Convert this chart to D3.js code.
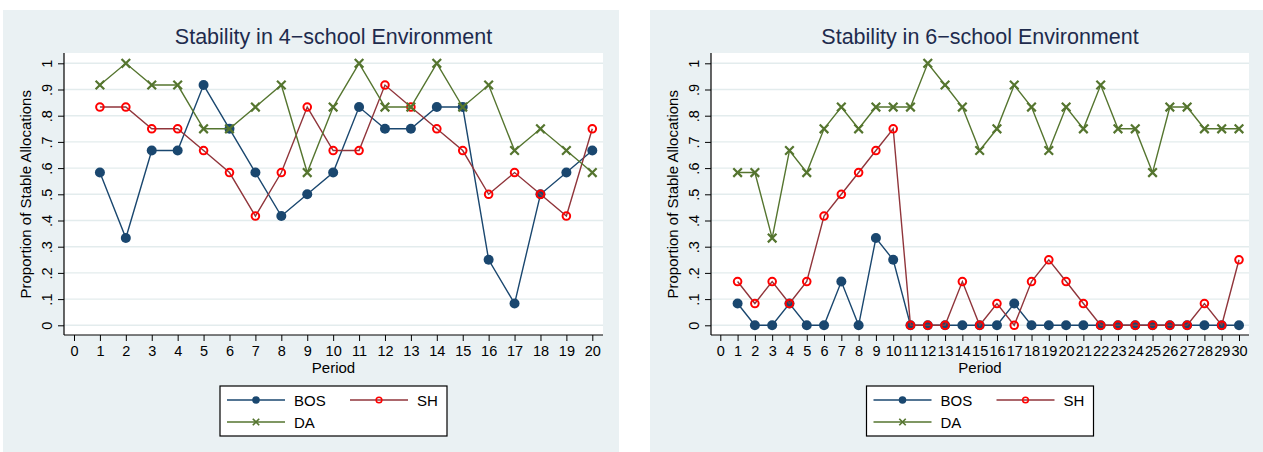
<!DOCTYPE html>
<html>
<head>
<meta charset="utf-8">
<script src="https://cdn.jsdelivr.net/npm/d3@7"></script>
<style>
  body { margin: 0; background: #fff; }
  svg { display: block; }
  text { font-family: "Liberation Sans", Arial, sans-serif; }
</style>
</head>
<body>
<svg id="chart" width="1263" height="452"></svg>
<script>
// data (share of stable allocations per period)
const periods4 = [1, 2, 3, 4, 5, 6, 7, 8, 9, 10, 11, 12, 13, 14, 15, 16, 17, 18, 19, 20];
const bos4 = [0.583, 0.333, 0.667, 0.667, 0.917, 0.75, 0.583, 0.417, 0.5, 0.583, 0.833, 0.75, 0.75, 0.833, 0.833, 0.25, 0.083, 0.5, 0.583, 0.667];
const sh4  = [0.833, 0.833, 0.75, 0.75, 0.667, 0.583, 0.417, 0.583, 0.833, 0.667, 0.667, 0.917, 0.833, 0.75, 0.667, 0.5, 0.583, 0.5, 0.417, 0.75];
const da4  = [0.917, 1, 0.917, 0.917, 0.75, 0.75, 0.833, 0.917, 0.583, 0.833, 1, 0.833, 0.833, 1, 0.833, 0.917, 0.667, 0.75, 0.667, 0.583];

const periods6 = [1, 2, 3, 4, 5, 6, 7, 8, 9, 10, 11, 12, 13, 14, 15, 16, 17, 18, 19, 20, 21, 22, 23, 24, 25, 26, 27, 28, 29, 30];
const bos6 = [0.083, 0, 0, 0.083, 0, 0, 0.167, 0, 0.333, 0.25, 0, 0, 0, 0, 0, 0, 0.083, 0, 0, 0, 0, 0, 0, 0, 0, 0, 0, 0, 0, 0];
const sh6  = [0.167, 0.083, 0.167, 0.083, 0.167, 0.417, 0.5, 0.583, 0.667, 0.75, 0, 0, 0, 0.167, 0, 0.083, 0, 0.167, 0.25, 0.167, 0.083, 0, 0, 0, 0, 0, 0, 0.083, 0, 0.25];
const da6  = [0.583, 0.583, 0.333, 0.667, 0.583, 0.75, 0.833, 0.75, 0.833, 0.833, 0.833, 1, 0.917, 0.833, 0.667, 0.75, 0.917, 0.833, 0.667, 0.833, 0.75, 0.917, 0.75, 0.75, 0.583, 0.833, 0.833, 0.75, 0.75, 0.75];

const seriesNames = ["BOS", "SH", "DA"];
const yTicks = [0, 0.1, 0.2, 0.3, 0.4, 0.5, 0.6, 0.7, 0.8, 0.9, 1];
const yTickLabels = ["0", ".1", ".2", ".3", ".4", ".5", ".6", ".7", ".8", ".9", "1"];
const xTicks4 = [0, 1, 2, 3, 4, 5, 6, 7, 8, 9, 10, 11, 12, 13, 14, 15, 16, 17, 18, 19, 20];
const xTicks6 = [0, 1, 2, 3, 4, 5, 6, 7, 8, 9, 10, 11, 12, 13, 14, 15, 16, 17, 18, 19, 20, 21, 22, 23, 24, 25, 26, 27, 28, 29, 30];

const style = {
  BOS: { line: "#1a476f", marker: "dot", color: "#1a476f" },
  SH:  { line: "#90353b", marker: "ring", color: "#ff0000" },
  DA:  { line: "#55752f", marker: "cross", color: "#55752f" }
};

const svg = d3.select("#chart");

function drawMarker(g, kind, color, x, y, k) {
  if (kind === "dot") {
    g.append("circle").attr("cx", x).attr("cy", y).attr("r", 5 * k).attr("fill", color);
  } else if (kind === "ring") {
    g.append("circle").attr("cx", x).attr("cy", y).attr("r", 3.8 * k)
      .attr("fill", "none").attr("stroke", color).attr("stroke-width", 2 * k);
  } else {
    const s = 4.3 * k;
    g.append("path").attr("d", `M${x - s},${y - s}L${x + s},${y + s}M${x - s},${y + s}L${x + s},${y - s}`)
      .attr("stroke", color).attr("stroke-width", 2.2 * k).attr("fill", "none");
  }
}

function drawPanel(cfg) {
  const g = svg.append("g");
  const [bx, by, bw, bh] = cfg.bg;
  const [px0, py0, px1, py1] = cfg.plot;

  g.append("rect").attr("x", bx).attr("y", by).attr("width", bw).attr("height", bh).attr("fill", "#eaf1f3");
  g.append("rect").attr("x", px0).attr("y", py0).attr("width", px1 - px0).attr("height", py1 - py0).attr("fill", "#fff");

  const x = d3.scaleLinear().domain([0, cfg.xTicks[cfg.xTicks.length - 1]]).range(cfg.xRange);
  const y = d3.scaleLinear().domain([0, 1]).range([325.3, 63.3]);

  // grid
  g.append("g").selectAll("line").data(yTicks).join("line")
    .attr("x1", px0).attr("x2", px1)
    .attr("y1", d => y(d)).attr("y2", d => y(d))
    .attr("stroke", "#e3eced").attr("stroke-width", 1.4);

  // y axis
  const ya = g.append("g").attr("transform", `translate(${px0},0)`)
    .call(d3.axisLeft(y).tickValues(yTicks).tickFormat((d, i) => yTickLabels[i]).tickSize(6).tickSizeOuter(0));
  ya.select(".domain").remove();
  ya.selectAll(".tick line").attr("stroke", "#000");
  ya.selectAll(".tick text")
    .attr("x", null).attr("dy", null)
    .attr("transform", "translate(-12,0) rotate(-90)")
    .attr("text-anchor", "middle")
    .attr("fill", "#000").style("font-size", "14.5px").style("font-family", "Liberation Sans, Arial, sans-serif");
  g.append("line").attr("x1", px0).attr("x2", px0).attr("y1", py0).attr("y2", py1).attr("stroke", "#000").attr("stroke-width", 1.2);

  // x axis
  const xa = g.append("g").attr("transform", `translate(0,${py1})`)
    .call(d3.axisBottom(x).tickValues(cfg.xTicks).tickFormat(d3.format("d")).tickSize(6).tickSizeOuter(0));
  xa.select(".domain").remove();
  xa.selectAll(".tick line").attr("stroke", "#000");
  xa.selectAll(".tick text").attr("y", 21).attr("dy", null)
    .attr("fill", "#000").style("font-size", "14.5px").style("font-family", "Liberation Sans, Arial, sans-serif");
  g.append("line").attr("x1", px0).attr("x2", px1).attr("y1", py1).attr("y2", py1).attr("stroke", "#000").attr("stroke-width", 1.2);

  // titles
  const cx = (px0 + px1) / 2;
  g.append("text").attr("x", cx).attr("y", 44).attr("text-anchor", "middle")
    .attr("fill", "#1e2b4d").style("font-size", "21.5px").text(cfg.title);
  g.append("text").attr("x", cx).attr("y", 373).attr("text-anchor", "middle")
    .attr("fill", "#000").style("font-size", "15px").text("Period");
  g.append("text").attr("transform", `translate(${px0 - 33},${(y(0) + y(1)) / 2}) rotate(-90)`)
    .attr("text-anchor", "middle").attr("fill", "#000").style("font-size", "15px")
    .text("Proportion of Stable Allocations");

  // series
  const line = d3.line().x(d => x(d.p)).y(d => y(d.v));
  cfg.series.forEach((vals, si) => {
    const st = style[seriesNames[si]];
    const pts = cfg.periods.map((p, i) => ({ p, v: vals[i] }));
    const sg = g.append("g");
    sg.append("path").datum(pts).attr("d", line)
      .attr("fill", "none").attr("stroke", st.line).attr("stroke-width", 1.4);
    pts.forEach(d => drawMarker(sg, st.marker, st.color, x(d.p), y(d.v), 1));
  });

  // legend
  const lx = cx - 113.5, ly = 386;
  const lg = g.append("g");
  lg.append("rect").attr("x", lx).attr("y", ly).attr("width", 227).attr("height", 50)
    .attr("fill", "#fff").attr("stroke", "#000").attr("stroke-width", 1.2);
  const slots = [[lx + 7, 400], [lx + 130, 400], [lx + 7, 422]];
  seriesNames.forEach((name, i) => {
    const st = style[name];
    const [sx, sy] = slots[i];
    lg.append("line").attr("x1", sx).attr("x2", sx + 58).attr("y1", sy).attr("y2", sy)
      .attr("stroke", st.line).attr("stroke-width", 1.4);
    drawMarker(lg, st.marker, st.color, sx + 29, sy, 0.75);
    lg.append("text").attr("x", sx + 67).attr("y", sy + 5.5).attr("fill", "#000")
      .style("font-size", "15px").text(name);
  });
}

drawPanel({
  bg: [3, 10, 616, 442], plot: [64, 53, 603, 335], xRange: [74, 592.3],
  xTicks: xTicks4, periods: periods4, series: [bos4, sh4, da4],
  title: "Stability in 4\u2212school Environment"
});
drawPanel({
  bg: [650, 10, 613, 442], plot: [711, 53, 1249, 335], xRange: [720.3, 1239],
  xTicks: xTicks6, periods: periods6, series: [bos6, sh6, da6],
  title: "Stability in 6\u2212school Environment"
});
</script>
</body>
</html>
